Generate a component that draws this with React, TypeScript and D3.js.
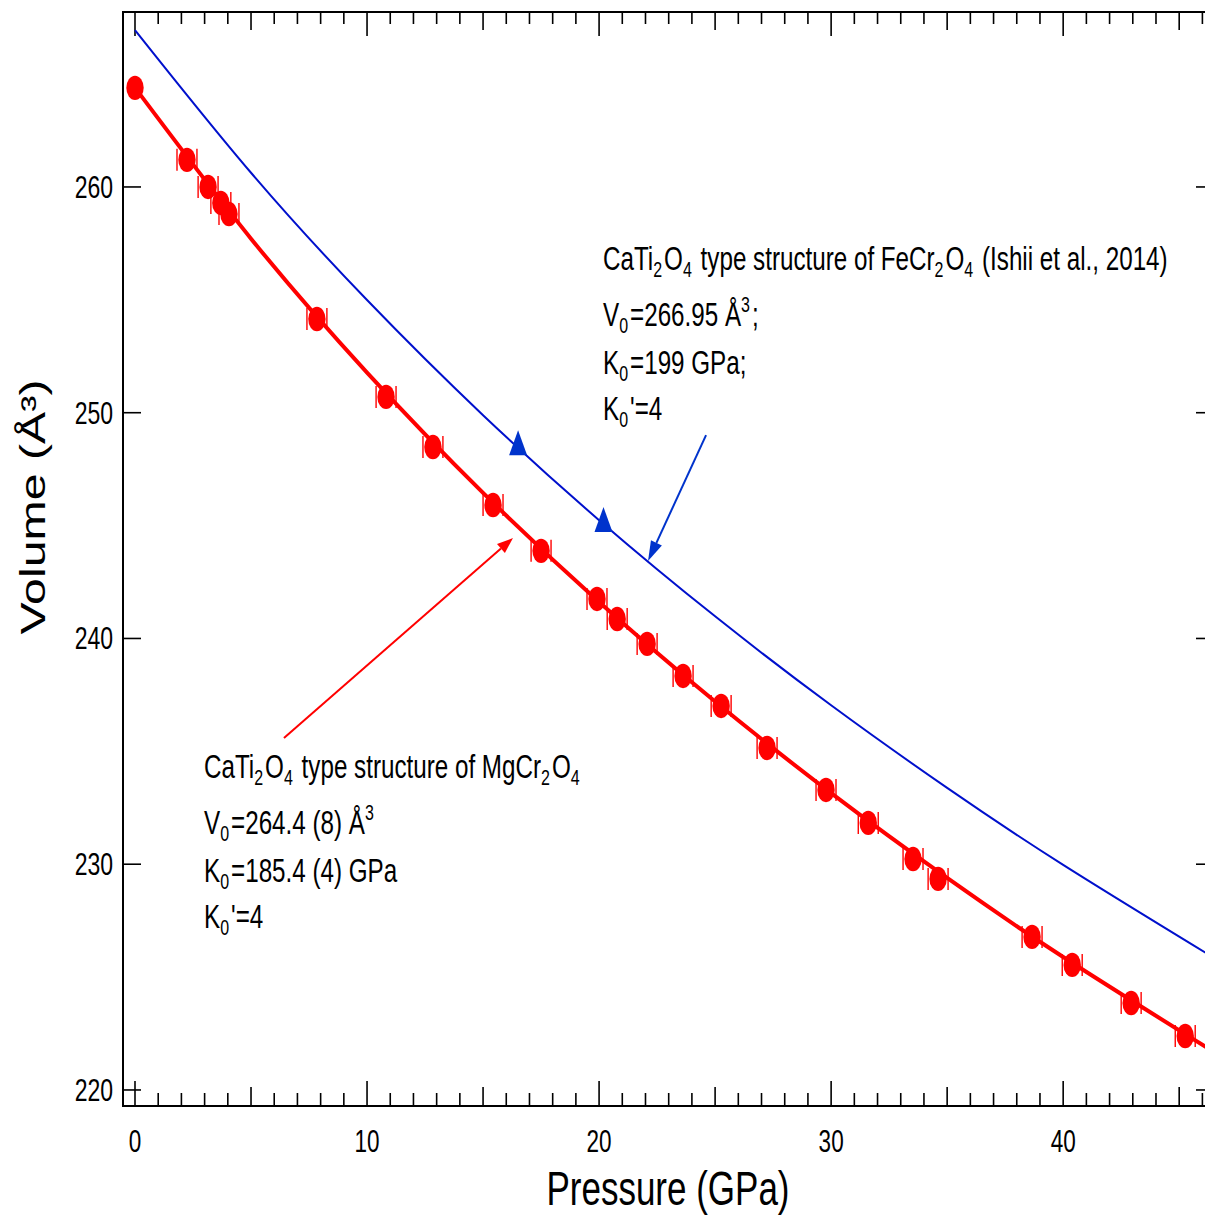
import React from 'react';
import * as d3 from 'd3';

// Measured MgCr2O4 (CaTi2O4-type) data
const pressures = [0, 2.24, 3.15, 3.7, 4.05, 7.84, 10.82, 12.84, 15.43, 17.5, 19.91, 20.78, 22.07, 23.62, 25.26, 27.24, 29.78, 31.6, 33.53, 34.61, 38.66, 40.39, 42.93, 45.26];
const volumes = [264.39, 261.2, 260.0, 259.29, 258.8, 254.15, 250.7, 248.48, 245.91, 243.88, 241.75, 240.86, 239.76, 238.34, 237.01, 235.15, 233.29, 231.83, 230.23, 229.35, 226.78, 225.54, 223.85, 222.39];
const pressureErr = [0, 0.43, 0.43, 0.43, 0.43, 0.43, 0.43, 0.43, 0.43, 0.43, 0.43, 0.43, 0.43, 0.43, 0.43, 0.43, 0.43, 0.43, 0.43, 0.43, 0.43, 0.43, 0.43, 0.43];

// EoS curves
const fitPressures = [0, 5, 10, 15, 20, 25, 30, 35, 40, 46.5];
const fitVolumesMg = [264.4, 257.71, 251.78, 246.45, 241.62, 237.21, 233.15, 229.39, 225.89, 221.68];
const fitVolumesFe = [266.95, 260.63, 254.99, 249.89, 245.24, 240.98, 237.04, 233.38, 229.97, 225.85];

// FeCr2O4 (Ishii et al., 2014) points
const triPressures = [16.51, 20.19];
const triVolumes = [248.6, 245.2];

// Annotation arrows [P, V] start -> tip
const blueArrow = [[24.61, 249.01], [22.11, 243.43]];
const redArrow = [[6.42, 235.59], [16.29, 244.45]];

const xTickLabels = [0, 10, 20, 30, 40];
const yTickLabels = [220, 230, 240, 250, 260];

const W = 1205, H = 1218;
const L = 123, R = 1214, T = 12, B = 1106;
const SY = 1.4;
const FONT = '"Liberation Sans", Arial, Helvetica, sans-serif';
const RED = '#ff0000';
const BLUE = '#0010cc';
const BLUE2 = '#0033cc';

function SText({ x, y, size, anchor = 'start', children }: any) {
  return (
    <text transform={`translate(${x},${y}) scale(1,${SY})`} fontSize={size} fontFamily={FONT} textAnchor={anchor} fill="#000">
      {children}
    </text>
  );
}

function Sub({ children }: any) {
  return (<><tspan fontSize={16} dy={5}>{children}</tspan><tspan dy={-5}>{'\u200A'}</tspan></>);
}
function Sup({ children }: any) {
  return (<><tspan fontSize={16} dy={-10}>{children}</tspan><tspan dy={10}>{'\u200A'}</tspan></>);
}

function Arrow({ from, to, color, len, half, x, y }: any) {
  const x1 = x(from[0]), y1 = y(from[1]), x2 = x(to[0]), y2 = y(to[1]);
  const a = Math.atan2(y2 - y1, x2 - x1);
  const bx = x2 - len * Math.cos(a), by = y2 - len * Math.sin(a);
  const px = -Math.sin(a) * half, py = Math.cos(a) * half;
  return (
    <g>
      <line x1={x1} y1={y1} x2={bx} y2={by} stroke={color} strokeWidth={2} />
      <path d={`M${x2},${y2}L${bx + px},${by + py}L${bx - px},${by - py}Z`} fill={color} />
    </g>
  );
}

export default function App() {
  const x = d3.scaleLinear().domain([-0.517, 46.5]).range([L, R]);
  const y = d3.scaleLinear().domain([219.29, 267.75]).range([B, T]);

  const line = d3.line<[number, number]>().x(d => x(d[0])).y(d => y(d[1])).curve(d3.curveNatural);
  const mgPath = line(fitPressures.map((p, i) => [p, fitVolumesMg[i]]) as any) || '';
  const fePath = line(fitPressures.map((p, i) => [p, fitVolumesFe[i]]) as any) || '';

  const xMinor = d3.range(0, 47, 1);
  const tickLen = (v: number) => (v % 10 === 0 ? 25 : v % 5 === 0 ? 19 : 13);

  return (
    <svg width={W} height={H} style={{ position: 'absolute', left: 0, top: 0, background: '#fff' }}>
      <rect x={0} y={0} width={W} height={H} fill="#fff" />
      <defs>
        <clipPath id="plotClip">
          <rect x={L} y={T} width={R - L} height={B - T} />
        </clipPath>
      </defs>

      {/* axes frame */}
      <line x1={L} y1={T} x2={L} y2={B} stroke="#000" strokeWidth={2} />
      <line x1={R} y1={T} x2={R} y2={B} stroke="#000" strokeWidth={2} />
      <line x1={L - 1} y1={T} x2={R} y2={T} stroke="#000" strokeWidth={2} />
      <line x1={L - 1} y1={B} x2={R} y2={B} stroke="#000" strokeWidth={2} />

      {/* x ticks bottom & top */}
      {xMinor.map(v => (
        <g key={'xt' + v}>
          <line x1={x(v)} x2={x(v)} y1={B} y2={B - tickLen(v)} stroke="#000" strokeWidth={1.6} />
          <line x1={x(v)} x2={x(v)} y1={T} y2={T + tickLen(v) - 1} stroke="#000" strokeWidth={1.6} />
        </g>
      ))}
      {/* y ticks left & right */}
      {yTickLabels.map(v => (
        <g key={'yt' + v}>
          <line x1={L} x2={L + 18} y1={y(v)} y2={y(v)} stroke="#000" strokeWidth={1.6} />
          <line x1={R} x2={R - 18} y1={y(v)} y2={y(v)} stroke="#000" strokeWidth={1.6} />
        </g>
      ))}

      {/* tick labels */}
      {xTickLabels.map(v => (
        <SText key={'xl' + v} x={x(v)} y={1152} size={22.5} anchor="middle">{String(v)}</SText>
      ))}
      {yTickLabels.map(v => (
        <SText key={'yl' + v} x={113} y={y(v) + 11} size={23} anchor="end">{String(v)}</SText>
      ))}

      {/* axis titles */}
      <SText x={668} y={1205} size={35} anchor="middle">Pressure (GPa)</SText>
      <text transform={`translate(45,507) rotate(-90) scale(${SY},1)`} fontSize={34.5} fontFamily={FONT} textAnchor="middle" fill="#000">Volume (Å³)</text>

      <g clipPath="url(#plotClip)">
        {/* FeCr2O4 curve */}
        <path d={fePath} fill="none" stroke={BLUE} strokeWidth={2} />
        {/* MgCr2O4 fit */}
        <path d={mgPath} fill="none" stroke={RED} strokeWidth={4} />

        {/* error bar caps */}
        {pressures.map((p, i) => pressureErr[i] > 0 ? (
          <g key={'eb' + i} stroke={RED} strokeWidth={1.4}>
            <line x1={x(p - pressureErr[i])} x2={x(p - pressureErr[i])} y1={y(volumes[i]) - 11} y2={y(volumes[i]) + 11} />
            <line x1={x(p + pressureErr[i])} x2={x(p + pressureErr[i])} y1={y(volumes[i]) - 11} y2={y(volumes[i]) + 11} />
          </g>
        ) : null)}
        {/* markers */}
        {pressures.map((p, i) => (
          <ellipse key={'pt' + i} cx={x(p)} cy={y(volumes[i])} rx={8.7} ry={12.2} fill={RED} />
        ))}

        {/* triangles */}
        {triPressures.map((p, i) => {
          const cx = x(p), cy = y(triVolumes[i]);
          return <path key={'tri' + i} d={`M${cx},${cy - 14}L${cx + 9},${cy + 11}L${cx - 9},${cy + 11}Z`} fill={BLUE2} />;
        })}
      </g>

      {/* arrows */}
      <Arrow from={blueArrow[0]} to={blueArrow[1]} color={BLUE2} len={20} half={6} x={x} y={y} />
      <Arrow from={redArrow[0]} to={redArrow[1]} color={RED} len={16} half={6} x={x} y={y} />

      {/* annotations: FeCr2O4 */}
      <SText x={603} y={270} size={24.2}>CaTi<Sub>2</Sub>O<Sub>4</Sub> type structure of FeCr<Sub>2</Sub>O<Sub>4</Sub> (Ishii et al., 2014)</SText>
      <SText x={603} y={326} size={24.2}>V<Sub>0</Sub>=266.95 Å<Sup>3</Sup>;</SText>
      <SText x={603} y={374} size={24.2}>K<Sub>0</Sub>=199 GPa;</SText>
      <SText x={603} y={420} size={24.2}>K<Sub>0</Sub>'=4</SText>

      {/* annotations: MgCr2O4 */}
      <SText x={204} y={778} size={24.2}>CaTi<Sub>2</Sub>O<Sub>4</Sub> type structure of MgCr<Sub>2</Sub>O<Sub>4</Sub></SText>
      <SText x={204} y={834} size={24.2}>V<Sub>0</Sub>=264.4 (8) Å<Sup>3</Sup></SText>
      <SText x={204} y={882} size={24.2}>K<Sub>0</Sub>=185.4 (4) GPa</SText>
      <SText x={204} y={928} size={24.2}>K<Sub>0</Sub>'=4</SText>
    </svg>
  );
}
